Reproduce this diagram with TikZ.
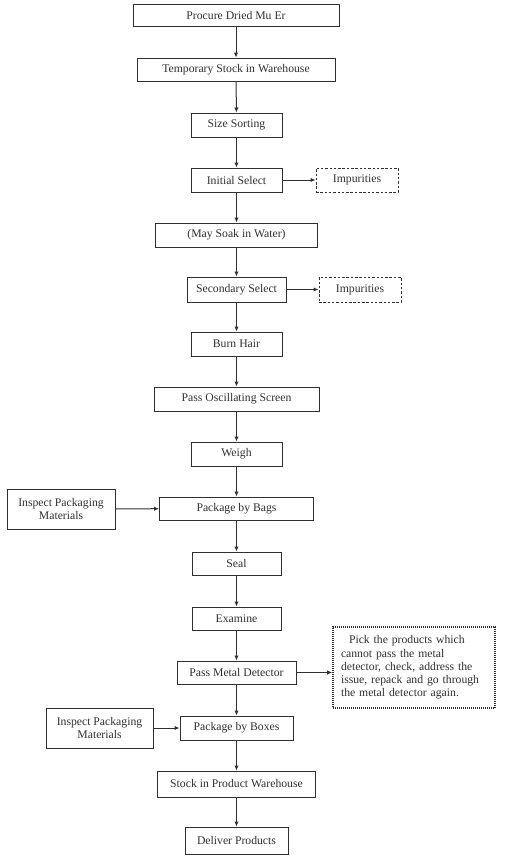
\documentclass[tikz,border=0pt]{standalone}
\usepackage{fontspec}
\setmainfont{Liberation Serif}
\usetikzlibrary{arrows.meta}
\definecolor{ink}{HTML}{303030}
\begin{document}
\begin{tikzpicture}[x=1pt,y=-1pt,
  every node/.style={font=\fontsize{11.7}{13.3}\selectfont, text=ink},
  box/.style={draw=ink, line width=1pt, inner sep=0pt, minimum height=#1, anchor=center},
  box/.default=24pt,
  dbox/.style={draw=ink, line width=1pt, dash pattern=on 2.5pt off 1.8pt, inner sep=0pt, minimum height=24pt},
  note/.style={draw=ink, line width=1.6pt, dash pattern=on 1pt off 1pt, inner xsep=8pt, inner ysep=0pt, minimum width=162pt, minimum height=81pt, text width=146pt, align=left},
  arr/.style={draw=ink, line width=1pt, -{Latex[length=5pt,width=4.5pt]}}
]
\useasboundingbox (0,0) rectangle (505,857);
\node[box=22pt, minimum width=206pt] (procure) at (236,15) {Procure Dried Mu Er};
\node[box=23pt, minimum width=198pt] (temp) at (236,69.5) {Temporary Stock in Warehouse};
\node[box, minimum width=91pt] (size) at (236.5,125) {Size Sorting};
\node[box, minimum width=91pt] (init) at (236.5,180) {Initial Select};
\node[dbox, minimum width=82pt] (imp1) at (357,180) {Impurities};
\node[box, minimum width=162pt] (soak) at (236.5,235) {(May Soak in Water)};
\node[box=25pt, minimum width=99pt] (sec) at (236.5,289.5) {Secondary Select};
\node[dbox, minimum width=82pt, minimum height=25pt] (imp2) at (360,289.5) {Impurities};
\node[box, minimum width=91pt] (burn) at (236.5,344) {Burn Hair};
\node[box, minimum width=165pt] (osc) at (236.5,399) {Pass Oscillating Screen};
\node[box, minimum width=91pt] (weigh) at (236.5,454) {Weigh};
\node[box=23pt, minimum width=154pt] (bags) at (236.5,508.5) {Package by Bags};
\node[box=40pt, minimum width=108pt, align=center] (insp1) at (61,509) {Inspect Packaging\\Materials};
\node[box=23pt, minimum width=89pt] (seal) at (236.5,563.5) {Seal};
\node[box=23pt, minimum width=89pt] (exam) at (236.5,618.5) {Examine};
\node[box=23pt, minimum width=119pt] (metal) at (236.5,672.5) {Pass Metal Detector};
\node[note] (notebox) at (414,667.5) {\hspace*{8pt}Pick the products which\\cannot pass the metal\\detector, check, address the\\issue, repack and go through\\the metal detector again.};
\node[box=40pt, minimum width=107pt, align=center] (insp2) at (99.5,728) {Inspect Packaging\\Materials};
\node[box, minimum width=113pt] (boxes) at (236.5,728) {Package by Boxes};
\node[box=26pt, minimum width=158pt] (stock) at (236.5,784) {Stock in Product Warehouse};
\node[box=27pt, minimum width=103pt] (deliver) at (236.5,840.5) {Deliver Products};
\draw[arr] (procure) -- (temp);
\draw[arr] (temp) -- (size);
\draw[arr] (size) -- (init);
\draw[arr] (init) -- (imp1);
\draw[arr] (init) -- (soak);
\draw[arr] (soak) -- (sec);
\draw[arr] (sec) -- (imp2);
\draw[arr] (sec) -- (burn);
\draw[arr] (burn) -- (osc);
\draw[arr] (osc) -- (weigh);
\draw[arr] (weigh) -- (bags);
\draw[arr] (insp1) -- (bags);
\draw[arr] (bags) -- (seal);
\draw[arr] (seal) -- (exam);
\draw[arr] (exam) -- (metal);
\draw[arr] (metal) -- (metal -| notebox.west);
\draw[arr] (metal) -- (boxes);
\draw[arr] (insp2) -- (boxes);
\draw[arr] (boxes) -- (stock);
\draw[arr] (stock) -- (deliver);
\end{tikzpicture}
\end{document}
